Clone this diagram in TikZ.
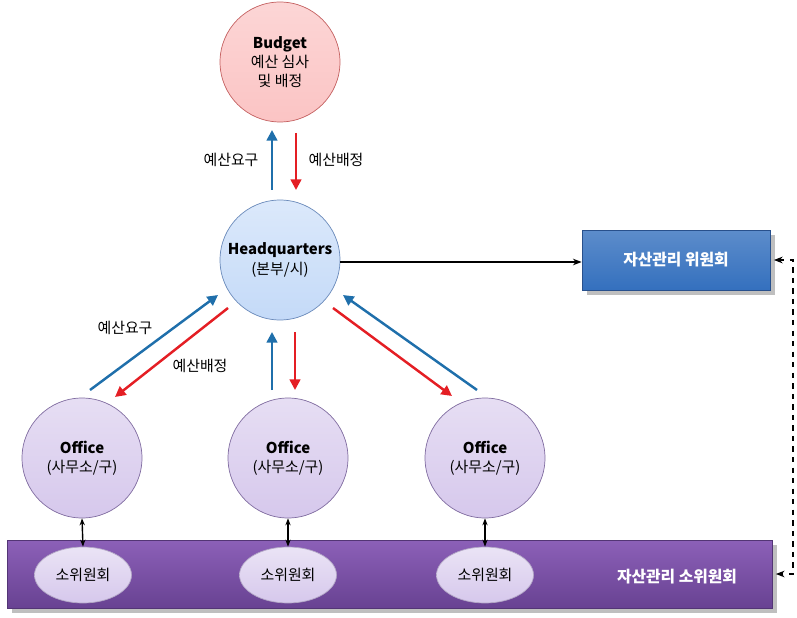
\documentclass[tikz,border=0pt]{standalone}
\usepackage{fontspec}
\setmainfont{Noto Sans CJK KR}
\usepackage{tikz}
\usetikzlibrary{arrows.meta}
\usetikzlibrary{calc}
\usetikzlibrary{shadows}
\usetikzlibrary{shapes.geometric}

\definecolor{upblue}{RGB}{31,111,171}
\definecolor{downred}{RGB}{228,30,36}
\definecolor{pinkfill}{RGB}{251,196,196}
\definecolor{pinkedge}{RGB}{196,96,96}
\definecolor{bluefill}{RGB}{196,218,248}
\definecolor{blueedge}{RGB}{106,138,186}
\definecolor{lilacfill}{RGB}{214,200,236}
\definecolor{lilacedge}{RGB}{128,108,160}
\definecolor{boxblue}{RGB}{52,112,190}
\definecolor{boxedge}{RGB}{40,80,140}
\definecolor{bandtop}{RGB}{140,96,184}
\definecolor{bandbot}{RGB}{104,66,146}

\tikzset{
  every node/.style={font=\fontsize{8.5}{11}\selectfont, align=center},
  unit/.style={circle, draw, minimum size=2.4cm, inner sep=0pt},
  budgetunit/.style={unit, draw=pinkedge, top color=pinkfill!70!white, bottom color=pinkfill},
  hqunit/.style={unit, draw=blueedge, top color=bluefill!60!white, bottom color=bluefill},
  officeunit/.style={unit, draw=lilacedge, top color=lilacfill!60!white, bottom color=lilacfill},
  subunit/.style={ellipse, draw=lilacedge!60!white, minimum width=1.94cm, minimum height=1.12cm,
    inner sep=0pt, top color=lilacfill!50!white, bottom color=lilacfill},
  up/.style={draw=upblue, line width=1.4pt, -{Triangle[length=6pt,width=6pt]}},
  down/.style={draw=downred, line width=1.4pt, -{Triangle[length=6pt,width=6pt]}},
  link/.style={draw=black, line width=0.8pt},
}

\begin{document}
\begin{tikzpicture}[x=0.02cm, y=-0.02cm]
\useasboundingbox (0,0) rectangle (797,618);

% bottom band
\node[draw=bandbot!80!black, top color=bandtop, bottom color=bandbot, drop shadow,
  minimum width=15.3cm, minimum height=1.36cm, inner sep=0pt] (band) at (389.5,574) {};
\node[text=white, font=\fontsize{9}{11}\selectfont\bfseries] (bandtext) at (677,577) {자산관리 소위원회};

% budget and headquarters
\node[budgetunit] (budget) at (280,62) {\textbf{Budget}\\예산 심사\\및 배정};
\node[hqunit] (hq) at (280,260) {\textbf{Headquarters}\\(본부/시)};

% offices
\node[officeunit] (o1) at (82,458) {\textbf{Office}\\(사무소/구)};
\node[officeunit] (o2) at (288,458) {\textbf{Office}\\(사무소/구)};
\node[officeunit] (o3) at (485,458) {\textbf{Office}\\(사무소/구)};

% sub committees
\node[subunit] (s1) at (83,575) {소위원회};
\node[subunit] (s2) at (288,575) {소위원회};
\node[subunit] (s3) at (485,575) {소위원회};

% committee box
\node[draw=boxedge, top color=boxblue!80!white, bottom color=boxblue, drop shadow,
  minimum width=3.76cm, minimum height=1.2cm, text=white,
  font=\fontsize{9}{11}\selectfont\bfseries] (board) at (676,260) {자산관리 위원회};

% budget <-> headquarters
\draw[up] ($(hq.center)+(-8,-70)$) -- ($(budget.center)+(-8,68)$);
\draw[down] ($(budget.center)+(16,71)$) -- ($(hq.center)+(16,-70)$);
\node (req0) at (231,160) {예산요구};
\node (alloc0) at (336,160) {예산배정};

% headquarters <-> offices
\draw[up] ($(o1.center)+(8,-68)$) -- ($(hq.center)+(-62,35)$);
\draw[down] ($(hq.center)+(-52,48)$) -- ($(o1.center)+(33,-61)$);
\node (req1) at (125,328) {예산요구};
\node (alloc1) at (200,366) {예산배정};

\draw[up] ($(o2.center)+(-16,-68)$) -- ($(hq.center)+(-8,72)$);
\draw[down] ($(hq.center)+(15,72)$) -- ($(o2.center)+(7,-68)$);

\draw[down] ($(hq.center)+(53,48)$) -- ($(o3.center)+(-33,-62)$);
\draw[up] ($(o3.center)+(-8,-68)$) -- ($(hq.center)+(63,35)$);

% offices <-> sub committees
\draw[link, {Stealth[length=4pt]}-{Stealth[length=4pt]}] (o1.south) -- (s1.north);
\draw[link, {Stealth[length=4pt]}-{Stealth[length=4pt]}] (o2.south) -- (s2.north);
\draw[link, {Stealth[length=4pt]}-{Stealth[length=4pt]}] (o3.south) -- (s3.north);

% committee links
\draw[link, -{Stealth[length=5pt]}] ($(hq.east)+(0,2)$) -- ($(board.west)+(0,2)$);
\draw[link, dashed, {Stealth[length=5pt]}-{Stealth[length=5pt]}]
  ([xshift=2pt]board.east) -- (793,260) |- ([xshift=2pt]band.east);

\end{tikzpicture}
\end{document}
